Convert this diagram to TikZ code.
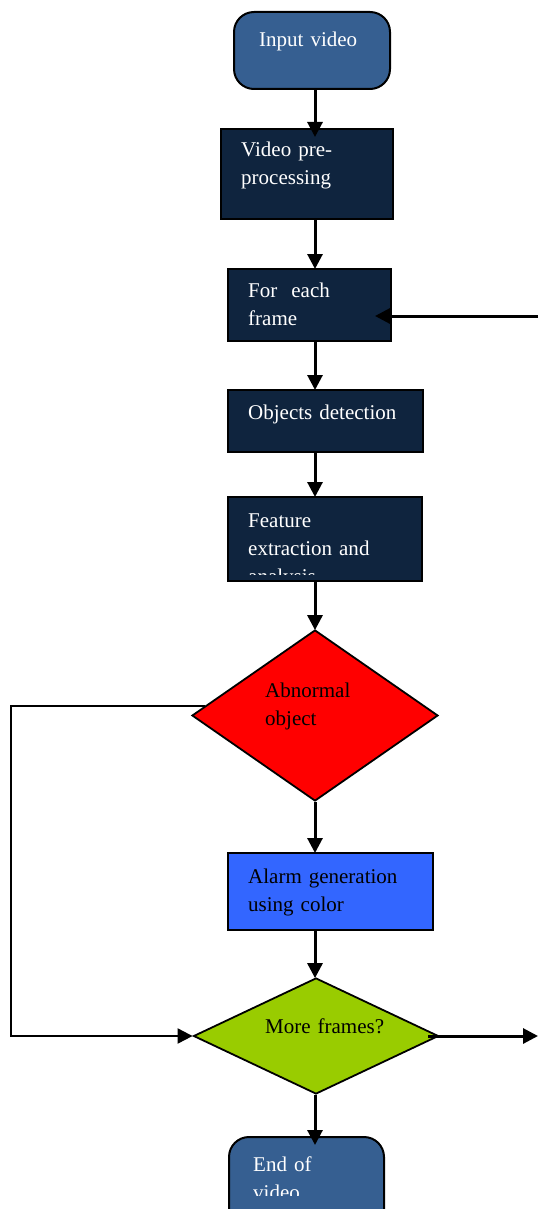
\documentclass[tikz,border=0pt]{standalone}
\usepackage{fontspec}
\setmainfont{Liberation Serif}
\usetikzlibrary{arrows.meta,shapes.geometric,positioning}
\definecolor{steel}{HTML}{365F91}
\definecolor{navy}{HTML}{0F243E}
\definecolor{alarmblue}{HTML}{3366FF}
\definecolor{morefill}{HTML}{99CC00}

\begin{document}
\begin{tikzpicture}[x=1pt,y=-1pt,
	flowbox/.style={draw=black,line width=2pt,inner sep=0pt,anchor=north west},
	darkbox/.style={flowbox,fill=navy},
	roundbox/.style={flowbox,fill=steel,rounded corners=20pt},
	decision/.style={diamond,draw=black,line width=1.8pt,inner sep=0pt},
	boxtext/.style={anchor=base west,inner sep=0pt,text width=200pt,align=left,
		font=\fontsize{21}{28}\selectfont},
	flow/.style={-{Triangle[length=15pt,width=15pt]},line width=3pt,shorten >=-1pt}]
\path[use as bounding box,clip] (0,0) rectangle (538,1209);
\coordinate (axis) at (315,0);

% boxes
\node[roundbox,minimum width=156pt,minimum height=77pt] (input) at (233,11) {};
\node[boxtext,text=white] (inputtxt) at (259,47) {Input video};
\node[darkbox,minimum width=172pt,minimum height=90pt] (prep) at (220,128) {};
\node[boxtext,text=white] (preptxt) at (241,157) {Video pre-\\processing};
\node[darkbox,minimum width=163pt,minimum height=72pt] (frame) at (227,268) {};
\node[boxtext,text=white] (frametxt) at (248,297) {For\ \ each\\frame};
\node[darkbox,minimum width=195pt,minimum height=62pt] (detect) at (227,389) {};
\node[boxtext,text=white] (detecttxt) at (248,419) {Objects detection};
\node[darkbox,minimum width=194pt,minimum height=84pt] (feature) at (227,496) {};
\begin{scope}
	\clip (227,496) rectangle (421,574);
	\node[boxtext,text=white] (featuretxt) at (248,527) {Feature\\extraction and\\analysis};
\end{scope}
\node[decision,fill=red,minimum width=246pt,minimum height=171pt] (abnormal) at (315,715.5) {};
\node[boxtext] (abnormaltxt) at (265,697) {Abnormal\\object};
\node[flowbox,fill=alarmblue,minimum width=205pt,minimum height=77pt] (alarm) at (227,852) {};
\node[boxtext] (alarmtxt) at (248,883) {Alarm generation\\using color};
\node[decision,fill=morefill,minimum width=245pt,minimum height=116pt] (more) at (316,1036) {};
\node[boxtext] (moretxt) at (265,1033) {More frames?};
\node[roundbox,minimum width=155pt,minimum height=100pt] (finish) at (228,1136) {};
\begin{scope}
	\clip (228,1136) rectangle (383,1195);
	\node[boxtext,text=white] (finishtxt) at (253,1171) {End of\\video};
\end{scope}

% connectors
\coordinate (back) at (538,316);
\coordinate (loopcorner) at (11,1036);
\coordinate (out) at (538,1036);
\draw[flow,shorten >=-9pt] (input.south -| axis) -- (prep.north -| axis);
\draw[flow] (prep.south -| axis) -- (frame.north -| axis);
\draw[flow,shorten >=-17pt] (back) -- (frame.east |- back);
\draw[flow] (frame.south -| axis) -- (detect.north -| axis);
\draw[flow] (detect.south -| axis) -- (feature.north -| axis);
\draw[flow] (feature.south -| axis) -- (abnormal.north);
\draw[flow] (abnormal.south) -- (alarm.north -| axis);
\draw[flow] (alarm.south -| axis) -- (more.north -| axis);
\draw[flow,line width=2pt,shorten >=0pt] (abnormal.175) -| (loopcorner) -- (more.west);
\draw[flow,shorten >=0pt] ([xshift=-11pt]more.east) -- (out);
\draw[flow,shorten >=-9pt] (more.south -| axis) -- (finish.north -| axis);
\end{tikzpicture}
\end{document}
